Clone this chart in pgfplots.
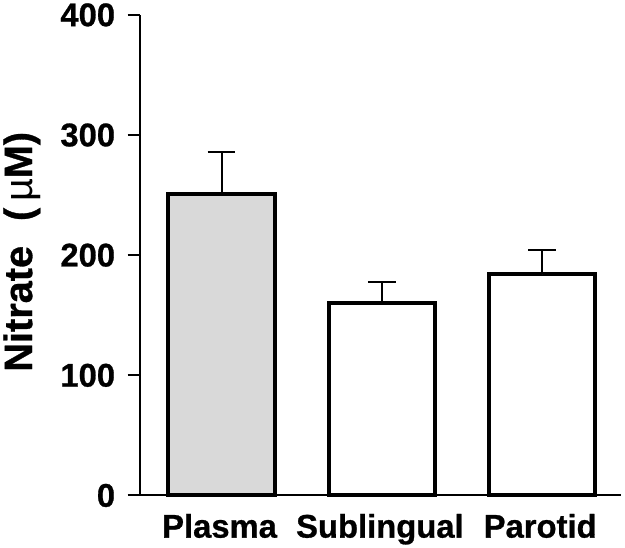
\documentclass[border=0pt]{standalone}
\usepackage{fontspec}
\setmainfont{Liberation Sans}[BoldFeatures={FakeBold=0.8}]
\usepackage{pgfplots}
\pgfplotsset{compat=1.18}
\definecolor{plasmafill}{HTML}{D9D9D9}
\begin{document}
\begin{tikzpicture}
\begin{axis}[
    scale only axis,
    width=483.7pt, height=484pt,
    xmin=-0.506, xmax=2.49,
    ymin=0, ymax=400,
    clip=false,
    ybar, bar width=107pt, bar shift=0pt,
    axis x line*=bottom, axis y line*=left,
    axis line style={line width=2pt, -},
    xtick={0,1,2},
    xticklabels={Plasma,Sublingual,Parotid},
    major x tick style={draw=none},
    ytick={0,100,200,300,400},
    tick align=outside,
    major tick length=13pt,
    major y tick style={line width=2pt, black},
    tick label style={font=\fontsize{33}{36}\selectfont\bfseries},
    /pgf/number format/assume math mode=true,
    xticklabel style={yshift=-2pt, xshift=-2pt},
    yticklabel style={xshift=-9pt},
    ylabel={Nitrate\hspace{0.35em} (\,{\mdseries µ}M)},
    every axis y label/.style={at={(rel axis cs:-0.247,0.507)}, rotate=90, anchor=center,
        font=\fontsize{40}{44}\selectfont\bfseries},
    every axis plot/.append style={draw=black, line width=4pt},
]
% each bar separately so the first can be grey
\addplot[fill=plasmafill, error bars/.cd, y dir=plus, y explicit,
    error bar style={line width=2pt}, error mark options={line width=2pt, mark size=14pt, rotate=90}]
    coordinates {(0,251) +- (0,35)};
\addplot[fill=white, error bars/.cd, y dir=plus, y explicit,
    error bar style={line width=2pt}, error mark options={line width=2pt, mark size=14pt, rotate=90}]
    coordinates {(1,160) +- (0,18)};
\addplot[fill=white, error bars/.cd, y dir=plus, y explicit,
    error bar style={line width=2pt}, error mark options={line width=2pt, mark size=14pt, rotate=90}]
    coordinates {(2,184) +- (0,20)};
\path (rel axis cs:-0.2832,-0.1012) rectangle (rel axis cs:1.0089,1.031);
\end{axis}
\end{tikzpicture}
\end{document}
